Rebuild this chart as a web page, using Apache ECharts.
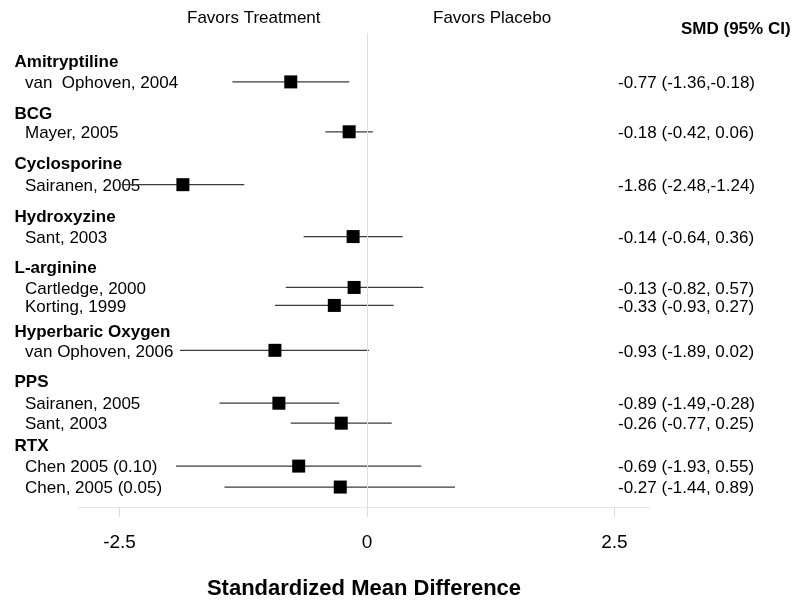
<!DOCTYPE html>
<html>
<head>
<meta charset="utf-8">
<script src="https://cdn.jsdelivr.net/npm/echarts@6/dist/echarts.min.js"></script>
<style>html,body{margin:0;padding:0;background:#fff}#c{width:800px;height:605px}</style>
</head>
<body>
<div id="c"></div>
<script>
// ---- data ----
const groups = ['Amitryptiline', 'BCG', 'Cyclosporine', 'Hydroxyzine', 'L-arginine', 'Hyperbaric Oxygen', 'PPS', 'RTX'];
const studies = ['van  Ophoven, 2004', 'Mayer, 2005', 'Sairanen, 2005', 'Sant, 2003', 'Cartledge, 2000', 'Korting, 1999',
  'van Ophoven, 2006', 'Sairanen, 2005', 'Sant, 2003', 'Chen 2005 (0.10)', 'Chen, 2005 (0.05)'];
const smd = [-0.77, -0.18, -1.86, -0.14, -0.13, -0.33, -0.93, -0.89, -0.26, -0.69, -0.27];
const ciLow = [-1.36, -0.42, -2.48, -0.64, -0.82, -0.93, -1.89, -1.49, -0.77, -1.93, -1.44];
const ciHigh = [-0.18, 0.06, -1.24, 0.36, 0.57, 0.27, 0.02, -0.28, 0.25, 0.55, 0.89];
const smdLabels = ['-0.77 (-1.36,-0.18)', '-0.18 (-0.42, 0.06)', '-1.86 (-2.48,-1.24)', '-0.14 (-0.64, 0.36)',
  '-0.13 (-0.82, 0.57)', '-0.33 (-0.93, 0.27)', '-0.93 (-1.89, 0.02)', '-0.89 (-1.49,-0.28)',
  '-0.26 (-0.77, 0.25)', '-0.69 (-1.93, 0.55)', '-0.27 (-1.44, 0.89)'];
const tickValues = [-2.5, 0, 2.5];

// ---- layout (row positions, in pixel units of the hidden y axis) ----
const headerRowY = [61, 113, 163, 216, 267, 331, 382, 446];
const studyRowY = [82, 132, 185, 237, 288, 306, 351, 404, 424, 467, 488];
const TEXT_DY = 1.5;

const FONT = '"Liberation Sans", Arial, Helvetica, sans-serif';

const chart = echarts.init(document.getElementById('c'), null, {renderer: 'canvas'});

const studyData = studies.map((s, i) => [ciLow[i], ciHigh[i], smd[i], studyRowY[i], i]);
const headerData = groups.map((g, i) => [0, headerRowY[i], i]);

function txt(text, x, y, opts) {
  return {
    type: 'text',
    style: Object.assign({
      text: text, x: x, y: y + TEXT_DY,
      fill: '#000',
      fontSize: 17, fontFamily: FONT, fontWeight: 'normal',
      align: 'left', verticalAlign: 'middle',
      textAlign: 'left', textVerticalAlign: 'middle'
    }, opts || {})
  };
}

const option = {
  animation: false,
  backgroundColor: '#fff',
  grid: {left: 78, right: 150, top: 33, bottom: 97},
  xAxis: {
    type: 'value', min: -2.92, max: 2.86,
    axisLine: {show: true, lineStyle: {color: '#e6e6e6', width: 1}},
    axisTick: {show: true, customValues: tickValues, length: 10, lineStyle: {color: '#dcdcdc'}},
    axisLabel: {customValues: tickValues, fontSize: 19, color: '#000', fontFamily: FONT, margin: 26},
    splitLine: {show: false},
    name: 'Standardized Mean Difference', nameLocation: 'middle', nameGap: 71,
    nameTextStyle: {fontSize: 22, fontWeight: 'bold', color: '#000', fontFamily: FONT}
  },
  yAxis: {type: 'value', inverse: true, min: 33, max: 508, show: false},
  graphic: [
    {type: 'text', left: 187, top: 10, style: {text: 'Favors Treatment', fontSize: 17, fontFamily: FONT, fill: '#000'}},
    {type: 'text', left: 433, top: 10, style: {text: 'Favors Placebo', fontSize: 17, fontFamily: FONT, fill: '#000'}},
    {type: 'text', left: 681, top: 21, style: {text: 'SMD (95% CI)', fontSize: 17, fontWeight: 'bold', fontFamily: FONT, fill: '#000'}}
  ],
  series: [
    {
      type: 'custom',
      clip: false,
      silent: true,
      data: headerData,
      renderItem: function (params, api) {
        const p = api.coord([api.value(0), api.value(1)]);
        return txt(groups[api.value(2)], 14.5, p[1], {fontWeight: 'bold'});
      },
      markLine: {
        silent: true, symbol: 'none', label: {show: false},
        lineStyle: {color: '#dedede', type: 'solid', width: 1},
        data: [{xAxis: 0}]
      }
    },
    {
      type: 'custom',
      clip: false,
      silent: true,
      data: studyData,
      renderItem: function (params, api) {
        const y = api.value(3);
        const i = api.value(4);
        const a = api.coord([api.value(0), y]);
        const b = api.coord([api.value(1), y]);
        const c = api.coord([api.value(2), y]);
        const s = 13;
        return {
          type: 'group',
          children: [
            txt(studies[i], 25, c[1]),
            txt(smdLabels[i], 618, c[1]),
            {type: 'line', shape: {x1: a[0], y1: a[1], x2: b[0], y2: b[1]},
              style: {stroke: '#3a3a3a', lineWidth: 1.3}},
            {type: 'rect', shape: {x: c[0] - s / 2, y: c[1] - s / 2, width: s, height: s},
              style: {fill: '#000'}}
          ]
        };
      }
    }
  ]
};
chart.setOption(option);
</script>
</body>
</html>
